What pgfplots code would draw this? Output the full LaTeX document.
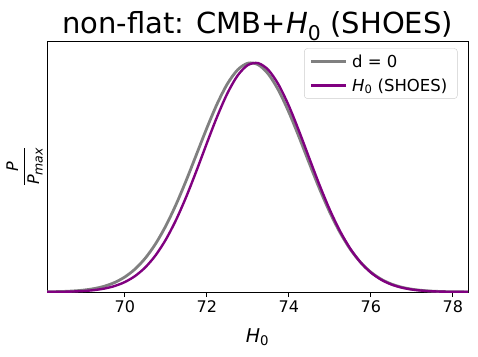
\documentclass[border=0pt]{standalone}
\usepackage{fontspec}
\setmainfont{DejaVu Sans}
\usepackage{pgfplots}
\pgfplotsset{compat=1.18}
\definecolor{mgray}{RGB}{128,128,128}
\definecolor{mpurple}{RGB}{128,0,128}
\begin{document}
\begin{tikzpicture}
\begin{axis}[
  scale only axis,
  width=421pt, height=251pt,
  xmin=68.10, xmax=78.37,
  ymin=0, ymax=1.095,
  xtick={70,72,74,76,78},
  xtick pos=lower,
  ytick=\empty,
  tick align=outside,
  major tick length=5pt,
  every tick/.style={black, line width=0.8pt},
  axis line style={line width=0.9pt},
  /pgf/number format/assume math mode=true,
  ticklabel style={font=\fontsize{16}{19}\selectfont},
  title={non-flat: CMB+\textit{H}\textsubscript{0} (SHOES)},
  title style={font=\fontsize{29}{34}\selectfont, at={(axis description cs:0.5,1)}, anchor=base, yshift=1pt},
  xlabel={\textit{H}\textsubscript{0}},
  xlabel style={font=\fontsize{19}{22}\selectfont, at={(axis description cs:0.5,0)}, anchor=base, yshift=-50pt},
  ylabel={\fontsize{16}{18}\selectfont\begin{tabular}{@{}c@{}}\textit{P}\\[0pt]\hline\rule{0pt}{15pt}\textit{P}\raisebox{-3.5pt}{\fontsize{12.5}{14}\selectfont\textit{max}}\end{tabular}},
  ylabel style={at={(axis description cs:0,0.5)}, anchor=center, yshift=22pt},
  legend style={at={(1,1)}, anchor=north east, xshift=-10.5pt, yshift=-7.3pt,
    draw=black!20, rounded corners=3pt, fill=white,
    font=\fontsize{16.5}{19}\selectfont, inner xsep=5pt, inner ysep=4pt,
    row sep=6pt, nodes={inner xsep=5pt}},
  legend cell align=left,
  legend image code/.code={\draw[#1] (0pt,0pt) -- (35pt,0pt);},
]
\addplot[mgray, line width=2.8pt, smooth] coordinates {
(68.0,0.000608) (68.25,0.00124) (68.5,0.00243) (68.75,0.00461) (69.0,0.00842)
(69.25,0.01486) (69.5,0.02527) (69.75,0.04149) (70.0,0.06572) (70.25,0.1004)
(70.5,0.1481) (70.75,0.2106) (71.0,0.2890) (71.25,0.3825) (71.5,0.4885)
(71.75,0.6019) (72.0,0.7155) (72.25,0.8206) (72.5,0.9080) (72.75,0.9692)
(73.0,0.9982) (73.25,0.9917) (73.5,0.9506) (73.75,0.8791) (74.0,0.7843)
(74.25,0.6752) (74.5,0.5607) (74.75,0.4492) (75.0,0.3472) (75.25,0.2589)
(75.5,0.1862) (75.75,0.1293) (76.0,0.0866) (76.25,0.05592) (76.5,0.03486)
(76.75,0.02096) (77.0,0.01216) (77.25,0.00681) (77.5,0.00367) (77.75,0.00191)
(78.0,0.00096) (78.25,0.00047) (78.5,0.00022)
};
\addlegendentry{d = 0}
\addplot[mpurple, line width=2.4pt, smooth] coordinates {
(68.0,0.000244) (68.25,0.000534) (68.5,0.00112) (68.75,0.00228) (69.0,0.00444)
(69.25,0.00833) (69.5,0.01502) (69.75,0.02607) (70.0,0.04351) (70.25,0.06986)
(70.5,0.1079) (70.75,0.1603) (71.0,0.2292) (71.25,0.3151) (71.5,0.4169)
(71.75,0.5305) (72.0,0.6495) (72.25,0.7648) (72.5,0.8665) (72.75,0.9443)
(73.0,0.9900) (73.25,0.9985) (73.5,0.9688) (73.75,0.9042) (74.0,0.8119)
(74.25,0.7012) (74.5,0.5827) (74.75,0.4658) (75.0,0.3581) (75.25,0.2649)
(75.5,0.1885) (75.75,0.1291) (76.0,0.0850) (76.25,0.05384) (76.5,0.03280)
(76.75,0.01924) (77.0,0.01085) (77.25,0.00589) (77.5,0.00307) (77.75,0.00154)
(78.0,0.00074) (78.25,0.00035) (78.5,0.00016)
};
\addlegendentry{\textit{H}\textsubscript{0} (SHOES)}
\end{axis}
\pgfresetboundingbox
\path ([shift={(-47pt,-64pt)}]current axis.south west) rectangle ([shift={(10pt,41pt)}]current axis.north east);
\end{tikzpicture}
\end{document}
